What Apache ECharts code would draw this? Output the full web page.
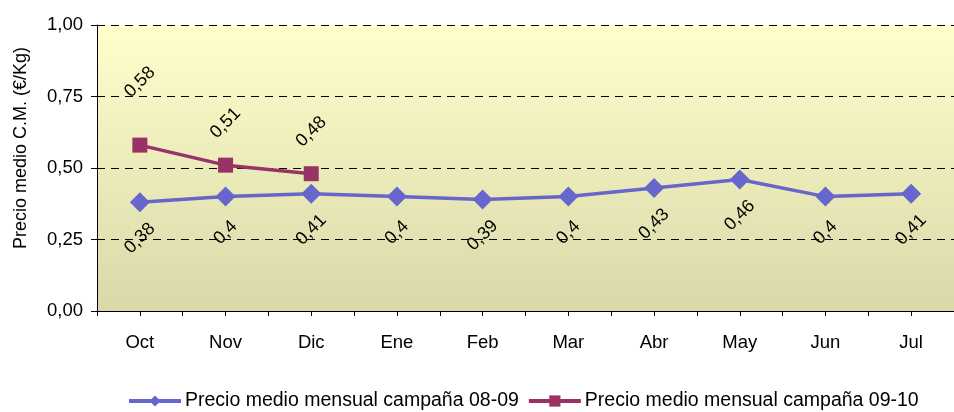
<!DOCTYPE html>
<html>
<head>
<meta charset="utf-8">
<script src="https://cdn.jsdelivr.net/npm/echarts@6/dist/echarts.min.js"></script>
<style>html,body{margin:0;padding:0;background:#fff}#c{width:954px;height:412px}</style>
</head>
<body>
<div id="c"></div>
<script>
const categories = ['Oct','Nov','Dic','Ene','Feb','Mar','Abr','May','Jun','Jul'];
const campana0809 = [0.38, 0.40, 0.41, 0.40, 0.39, 0.40, 0.43, 0.46, 0.40, 0.41];
const campana0910 = [0.58, 0.51, 0.48];
const yTicks = ['0,00','0,25','0,50','0,75','1,00'];
const seriesNames = ['Precio medio mensual campaña 08-09', 'Precio medio mensual campaña 09-10'];

const FONT = 'Liberation Sans, Arial, sans-serif';
const fmt = v => String(+v.toFixed(2)).replace('.', ',');
// label offset is rotated with the label (45deg); compensate so that the
// label moves straight down (d>0) or up (d<0) on screen
const vOff = d => [-d / Math.SQRT2, d / Math.SQRT2];

const chart = echarts.init(document.getElementById('c'), null, {renderer: 'canvas'});
const labelBase = {show: true, position: 'inside', rotate: 45, fontFamily: FONT, fontSize: 18, color: '#000',
  align: 'center', verticalAlign: 'middle', formatter: p => fmt(p.value)};

chart.setOption({
  animation: false,
  textStyle: {fontFamily: FONT},
  grid: {left: 97, right: -10, top: 25, bottom: 101, show: true, borderWidth: 0,
    backgroundColor: {type: 'linear', x: 0, y: 0, x2: 0, y2: 1,
      colorStops: [{offset: 0, color: '#FFFFCC'}, {offset: 1, color: '#D9D8A9'}]}},
  legend: {bottom: -4, left: 122, itemWidth: 52, itemHeight: 14, itemGap: 8,
    lineStyle: {width: 4},
    textStyle: {fontFamily: FONT, fontSize: 19.5, color: '#000', padding: [0, 0, 0, -1]}, data: seriesNames},
  xAxis: [{
    type: 'category', data: categories, boundaryGap: true,
    axisLine: {lineStyle: {color: '#000', width: 1}},
    axisTick: {show: true, length: 5, lineStyle: {color: '#000'}},
    axisLabel: {fontFamily: FONT, fontSize: 18.5, color: '#000', margin: 22}
  }, {
    type: 'category', data: categories, boundaryGap: true, position: 'bottom',
    axisLine: {show: false},
    axisTick: {show: true, alignWithLabel: true, length: 5, lineStyle: {color: '#000'}},
    axisLabel: {show: false}
  }],
  yAxis: {
    type: 'value', min: 0, max: 1, interval: 0.25,
    name: 'Precio medio C.M. (€/Kg)', nameLocation: 'middle', nameGap: 67, nameRotate: 90,
    nameTextStyle: {fontFamily: FONT, fontSize: 18, color: '#000', padding: [0, 0, 0, 40]},
    axisLine: {show: true, lineStyle: {color: '#000'}},
    axisTick: {show: true, length: 6, lineStyle: {color: '#000'}},
    axisLabel: {fontFamily: FONT, fontSize: 18.5, color: '#000', margin: 14,
      formatter: (v, i) => yTicks[Math.round(v / 0.25)]},
    splitLine: {show: true, lineStyle: {color: '#000', type: [8, 6], width: 1}}
  },
  series: [{
    name: seriesNames[0], type: 'line', data: campana0809,
    symbol: 'diamond', symbolSize: 20, color: '#6666CC',
    lineStyle: {width: 3.5, color: '#6666CC'},
    label: Object.assign({}, labelBase, {offset: vOff(36)}),
    z: 3
  }, {
    name: seriesNames[1], type: 'line', data: campana0910.map((v, i) => ({value: v,
      label: {offset: vOff(i === 0 ? -63 : -42)}})),
    symbol: 'rect', symbolSize: 15, color: '#993366',
    lineStyle: {width: 3.5, color: '#993366'},
    label: Object.assign({}, labelBase),
    z: 4
  }]
});
</script>
</body>
</html>
